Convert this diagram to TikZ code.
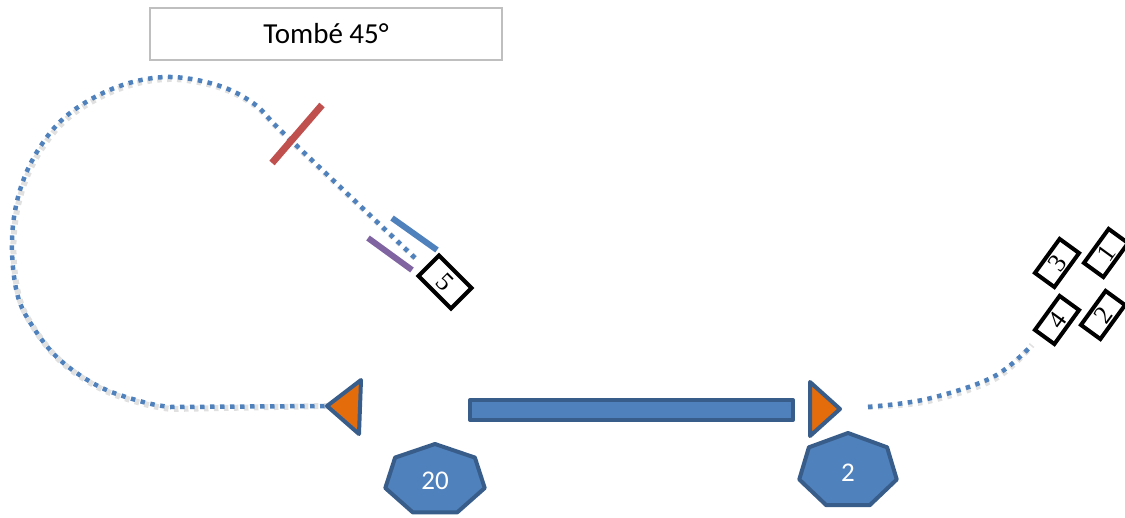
\documentclass[tikz,border=0pt]{standalone}
\usepackage{fontspec}
\newfontfamily\calibri{Carlito}
\newfontfamily\cardfont{Liberation Serif}
\usetikzlibrary{calc}
\definecolor{ofblue}{HTML}{4F81BD}
\definecolor{ofborder}{HTML}{385D8A}
\definecolor{oforange}{HTML}{E46C0A}
\definecolor{ofred}{HTML}{C0504D}
\definecolor{ofpurple}{HTML}{8064A2}
\definecolor{ofgray}{HTML}{BFBFBF}
\begin{document}
\begin{tikzpicture}[x=1pt,y=-1pt,
  card/.style={draw=black, line width=4pt, fill=white, minimum width=42pt, minimum height=24pt, inner sep=0pt, font=\cardfont\fontsize{26}{26}\selectfont},
  bigcard/.style={card, minimum width=46pt, minimum height=29pt},
  route/.style={draw=ofblue, line width=4.5pt, dash pattern=on 4.5pt off 5.5pt},
  routeshadow/.style={draw=black, opacity=0.12, line width=6pt, dash pattern=on 4.5pt off 5.5pt, shift={(1.5,2)}},
  hept/.style={fill=ofblue, draw=ofborder, line width=4pt, line join=round},
  flagshape/.style={fill=oforange, draw=ofborder, line width=4pt, line join=round},
  heptlabel/.style={text=white, inner sep=0pt, font=\calibri\fontsize{27}{27}\selectfont},
  stroke/.style={line width=6pt}
]
\useasboundingbox (0,0) rectangle (1125,517);

% title
\node[draw=ofgray, line width=2pt, minimum width=352pt, minimum height=52pt, inner sep=0pt,
      font=\calibri\fontsize{29}{29}\selectfont] (title) at (326,34) {Tombé 45°};

% coordinates for the routes
\coordinate (c5in) at (415,258);
\coordinate (ltri) at (327,406);
\coordinate (rtri) at (868,407);
\coordinate (c4in) at (1032,345);

% dotted routes (with soft shadow)
\draw[routeshadow] plot[smooth, tension=0.6] coordinates {(c5in) (317,165) (277,127) (253,103) (217,85) (167,77) (117,87) (70,113) (40,147) (20,190) (12,240) (17,293) (33,327) (60,360) (100,387) (143,402) (170,407)} -- (ltri);
\draw[routeshadow] plot[smooth, tension=0.6] coordinates {(rtri) (927,399) (993,377) (c4in)};
\draw[route] plot[smooth, tension=0.6] coordinates {(c5in) (317,165) (277,127) (253,103) (217,85) (167,77) (117,87) (70,113) (40,147) (20,190) (12,240) (17,293) (33,327) (60,360) (100,387) (143,402) (170,407)} -- (ltri);
\draw[route] plot[smooth, tension=0.6] coordinates {(rtri) (927,399) (993,377) (c4in)};

% marks across the route
\draw[ofred, line width=7pt] (272,163) -- (322,105);
\draw[ofblue, stroke] (392,218) -- (437,250);
\draw[ofpurple, stroke] (368,238) -- (412,270);

% cards
\node[bigcard, rotate=-45] (c5) at (445,282) {5};
\node[card, rotate=54] (c3) at (1057,263) {3};
\node[card, rotate=54] (c1) at (1106,253) {1};
\node[card, rotate=54] (c4) at (1057,320) {4};
\node[card, rotate=54] (c2) at (1103,315) {2};

% triangles
\draw[flagshape] (ltri) -- (361,380) -- (359,434) -- cycle;
\draw[flagshape] (810,382) -- (840,409) -- (810,436) -- cycle;

% bar
\draw[hept] (470,400) rectangle (793,420);

% heptagons
\draw[hept] plot[domain=0:6, samples=7] ({435+51*cos(90+\x*360/7)},{480-36*sin(90+\x*360/7)}) -- cycle;
\node[heptlabel] (h20) at (435,481) {20};
\draw[hept] plot[domain=0:6, samples=7] ({848+50*cos(90+\x*360/7)},{471-38*sin(90+\x*360/7)}) -- cycle;
\node[heptlabel] (h2) at (848,473) {2};
\end{tikzpicture}
\end{document}
